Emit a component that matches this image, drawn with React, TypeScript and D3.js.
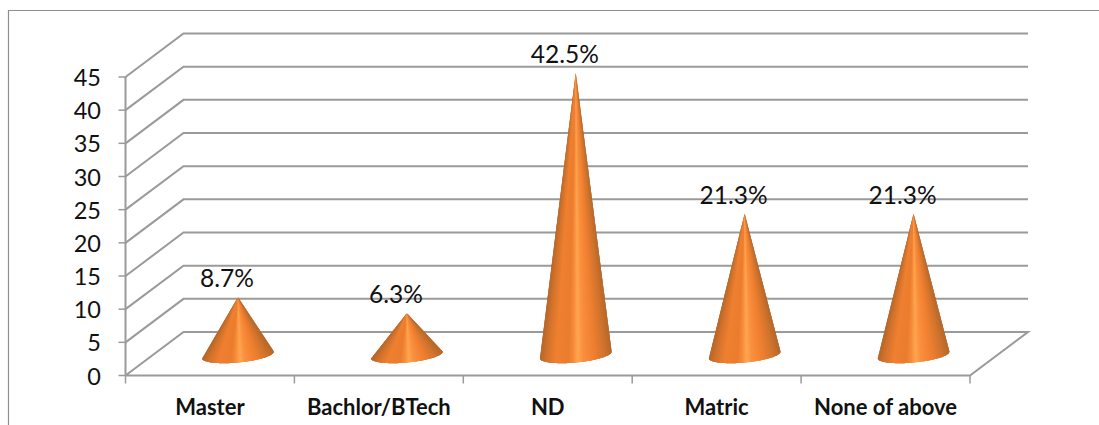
import React from "react";
import * as d3 from "d3";

// Education level shares, in percent
const categories = ["Master", "Bachlor/BTech", "ND", "Matric", "None of above"];
const shares = [8.7, 6.3, 42.5, 21.3, 21.3];
const axisTicks = [0, 5, 10, 15, 20, 25, 30, 35, 40, 45];

const WIDTH = 1099;
const HEIGHT = 425;
const FONT = "Lato, 'Open Sans', sans-serif";
const GRID = "#9a9a9a";

// Front plane of the 3D box and the shift towards its back plane
const left = 125.5;
const right = 970;
const bottom = 375.5;
const top = 77;
const depthX = 58;
const depthY = -43.5;

// Cones stand in the middle of the floor
const coneDX = 28;
const coneDY = -20.5;
const coneRx = 36;
const coneRy = 7.5;
const coneTilt = (-5.5 * Math.PI) / 180;

const x = d3.scaleBand<string>().domain(categories).range([left, right]);
const y = d3.scaleLinear().domain([0, 45]).range([bottom, top]);

// Surface shade across the cone, from its left silhouette to the right one
const shade = d3
  .scaleLinear<string>()
  .domain([0, 0.08, 0.22, 0.4, 0.47, 0.53, 0.6, 0.75, 0.9, 1])
  .range(["#b5662a", "#d0722c", "#f08030", "#ea7d2f", "#f88c3a", "#ffa74f", "#fa9040", "#f08030", "#d0742e", "#b5682b"]);

const line = d3.line();
const slices = d3.range(0, 90);

function Cone({ category, value }: { category: string; value: number }) {
  const cx = (x(category) as number) + x.bandwidth() / 2 + coneDX;
  const cy = y(0) + coneDY;
  const apexY = y(value) + coneDY;
  const rim = (t: number): [number, number] => {
    const ex = coneRx * Math.cos(t);
    const ey = coneRy * Math.sin(t);
    return [cx + ex * Math.cos(coneTilt) - ey * Math.sin(coneTilt), cy + ex * Math.sin(coneTilt) + ey * Math.cos(coneTilt)];
  };
  const at = (i: number) => rim(Math.PI - (Math.min(i, slices.length) / slices.length) * Math.PI);
  return (
    <g>
      {/* Each slice reaches under the next one, so no gaps show between them */}
      {slices.map((i) => {
        const a = at(i);
        const u = ((a[0] + at(i + 1)[0]) / 2 - (cx - coneRx)) / (2 * coneRx);
        return <path key={i} d={line([[cx, apexY], a, at(i + 1), at(i + 2), at(i + 3)])! + "Z"} fill={shade(u)} />;
      })}
    </g>
  );
}

export default function App() {
  const back = (v: number) => y(v) + depthY;
  return (
    <svg width={WIDTH} height={HEIGHT} style={{ position: "absolute", left: 0, top: 0, display: "block", background: "#fff" }}>
      {/* Chart frame: only the top and left edges fall inside the view */}
      <path d={`M8.5,${HEIGHT}V10.5H${WIDTH}`} fill="none" stroke="#8f8f8f" strokeWidth={1.2} />

      {/* Wall and floor grid lines */}
      {axisTicks.map((t) => (
        <path
          key={t}
          d={line([
            [left, y(t)],
            [left + depthX, back(t)],
            [right + depthX, back(t)],
            ...(t === 0 ? ([[right, y(t)], [left, y(t)]] as [number, number][]) : []),
          ])!}
          fill="none"
          stroke={GRID}
          strokeWidth={2}
        />
      ))}

      {/* Value axis */}
      <line x1={left} x2={left} y1={y(45)} y2={y(0)} stroke={GRID} strokeWidth={2} />
      {axisTicks.map((t) => (
        <g key={t}>
          <line x1={left - 7} x2={left} y1={y(t)} y2={y(t)} stroke={GRID} strokeWidth={1.5} />
          <text x={101} y={y(t) + 9} textAnchor="end" fontFamily={FONT} fontSize={23.5} fill="#111">
            {t}
          </text>
        </g>
      ))}

      {/* Category axis */}
      {[...categories.map((c) => x(c) as number), right].map((px) => (
        <line key={px} x1={px} x2={px} y1={y(0)} y2={y(0) + 8} stroke={GRID} strokeWidth={1.5} />
      ))}
      {categories.map((c) => (
        <text
          key={c}
          x={(x(c) as number) + x.bandwidth() / 2}
          y={415}
          textAnchor="middle"
          fontFamily={FONT}
          fontWeight={700}
          fontSize={22}
          fill="#111"
        >
          {c}
        </text>
      ))}

      {/* Cones and their value labels */}
      {categories.map((c, i) => (
        <Cone key={c} category={c} value={shares[i]} />
      ))}
      {categories.map((c, i) => (
        <text
          key={c}
          x={(x(c) as number) + x.bandwidth() / 2 + coneDX - 11}
          y={y(shares[i]) + coneDY - 10}
          textAnchor="middle"
          fontFamily={FONT}
          fontSize={24.5}
          fill="#111"
        >
          {shares[i].toFixed(1)}%
        </text>
      ))}
    </svg>
  );
}
